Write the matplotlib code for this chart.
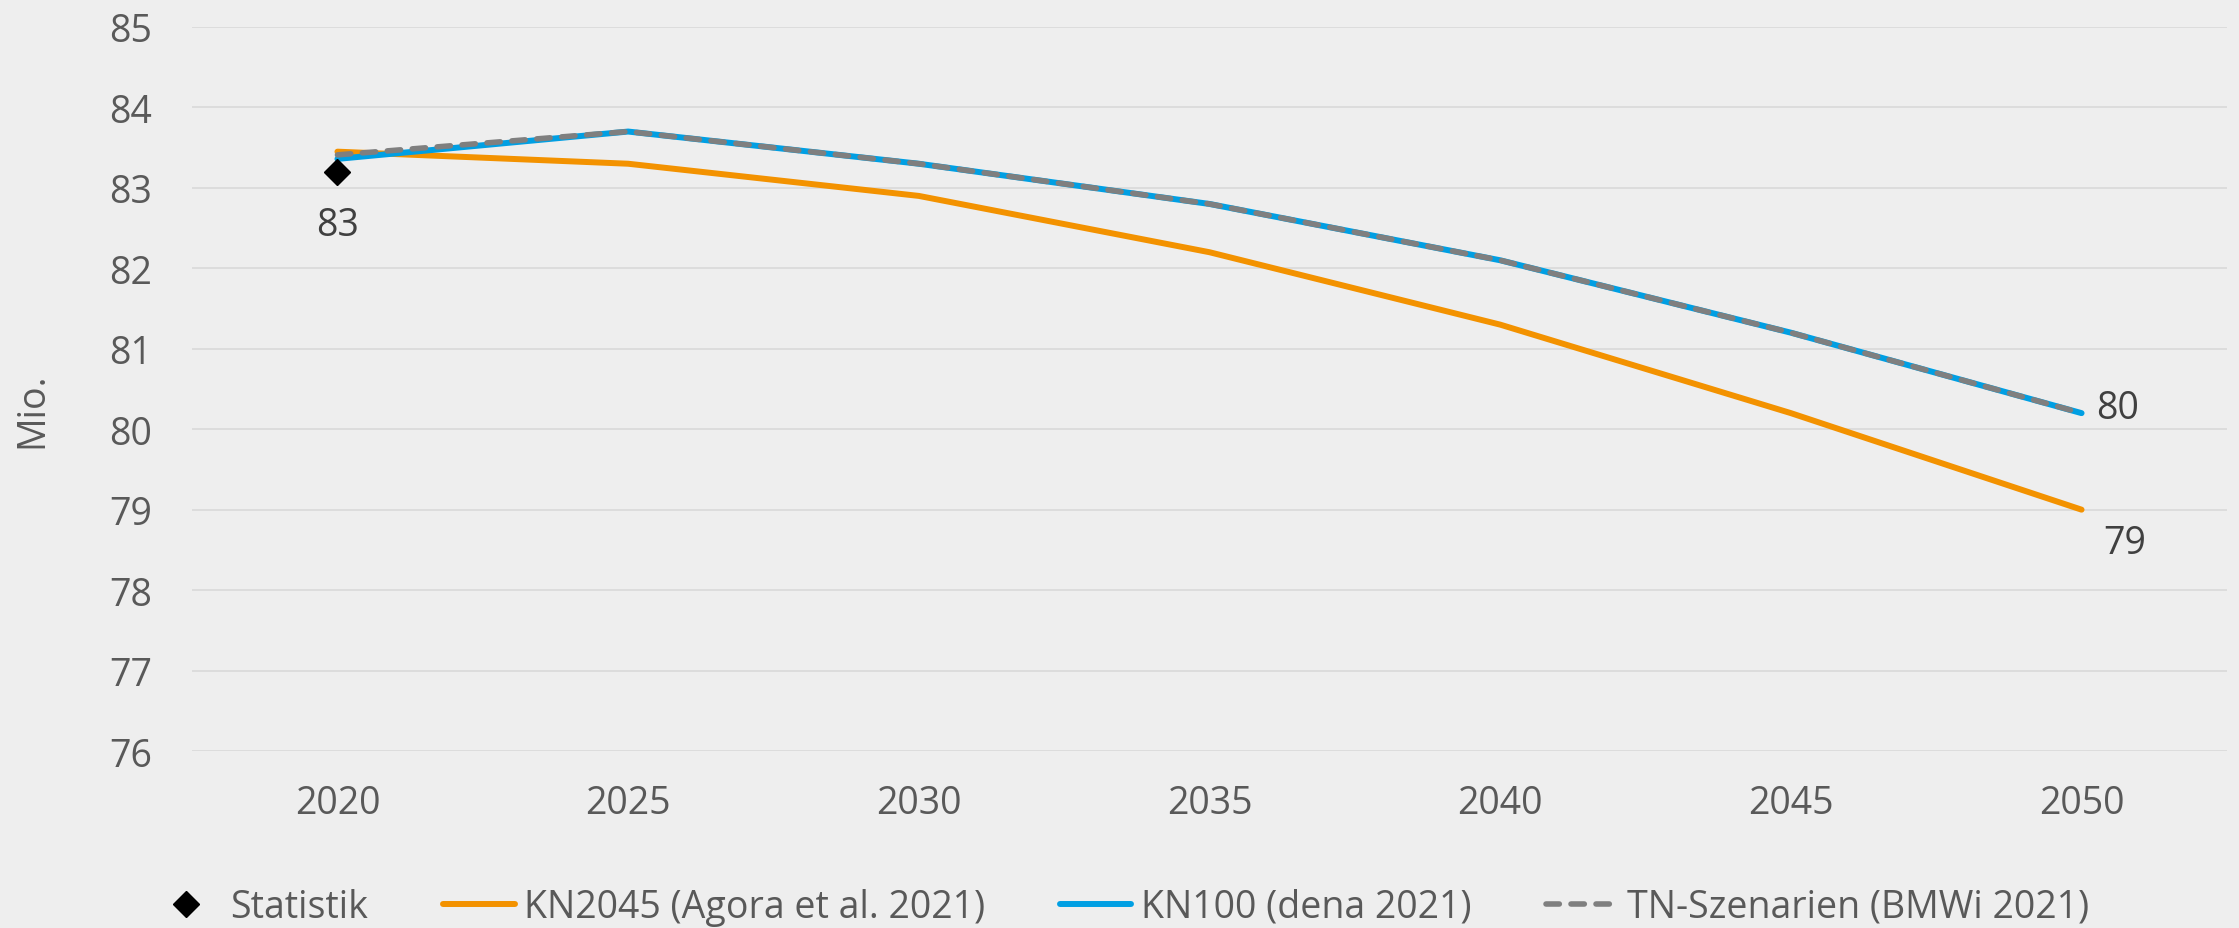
import matplotlib
matplotlib.use("Agg")
import matplotlib.pyplot as plt

plt.rcParams['font.family'] = ['Open Sans', 'DejaVu Sans']

years = ['2020', '2025', '2030', '2035', '2040', '2045', '2050']
statistik = [83.2]
kn2045 = [83.45, 83.3, 82.9, 82.2, 81.3, 80.2, 79.0]
kn100 = [83.36, 83.7, 83.3, 82.8, 82.1, 81.2, 80.2]
tn_szen = [83.41, 83.7, 83.3, 82.8, 82.1, 81.2, 80.2]
y_ticks = [76, 77, 78, 79, 80, 81, 82, 83, 84, 85]

bg = '#EEEEEE'
txt = '#595959'
fs = 27

fig = plt.figure(figsize=(22.39, 9.29), dpi=100, facecolor=bg)
ax = fig.add_axes([0.0858, 0.1905, 0.9088, 0.7794], facecolor=bg)

x = list(range(len(years)))

ax.plot(x, kn2045, color='#F39200', lw=4.3, solid_capstyle='round',
        label='KN2045 (Agora et al. 2021)', zorder=3)
ax.plot(x, kn100, color='#009FE3', lw=4.3, solid_capstyle='round',
        label='KN100 (dena 2021)', zorder=4)
ax.plot(x, tn_szen, color='#7F7F7F', lw=4.0, dashes=(2.4, 2.1),
        dash_capstyle='round', label='TN-Szenarien (BMWi 2021)', zorder=5)
ax.plot(x[:1], statistik, ls='none', marker='D', ms=13.5, color='black',
        label='Statistik', zorder=6)

        # data labels
ax.annotate(f'{statistik[0]:.0f}', (0, statistik[0]), xytext=(0, -38),
            textcoords='offset points', ha='center', va='center',
            fontsize=fs, color='#404040')
ax.annotate(f'{kn100[-1]:.0f}', (6, kn100[-1]), xytext=(26, 4),
            textcoords='offset points', ha='center', va='center',
            fontsize=fs, color='#404040')
ax.annotate(f'{kn2045[-1]:.0f}', (6, kn2045[-1]), xytext=(31, -24),
            textcoords='offset points', ha='center', va='center',
            fontsize=fs, color='#404040')

ax.set_xlim(-0.5, 6.5)
ax.set_ylim(76, 85)
ax.set_xticks(x)
ax.set_xticklabels(years)
ax.set_yticks(y_ticks)
ax.tick_params(axis='both', length=0, labelsize=fs, colors=txt)
ax.tick_params(axis='x', pad=24)
ax.tick_params(axis='y', pad=29)
ax.grid(axis='y', color='#D9D9D9', lw=1.2)
ax.set_axisbelow(True)
for s in ax.spines.values():
    s.set_visible(False)

fig.text(32 / 2239, 1 - 410 / 929, 'Mio.', rotation=90, ha='center',
         va='center', fontsize=fs, color=txt)

h, l = ax.get_legend_handles_labels()
order = [3, 0, 1, 2]
leg = fig.legend([h[i] for i in order], [l[i] for i in order], loc='center',
                 bbox_to_anchor=(0.5, 1 - 908 / 929), ncol=4, frameon=False,
                 fontsize=fs, labelcolor=txt, handlelength=1.9,
                 handletextpad=0.25, columnspacing=2.0, numpoints=1,
                 borderpad=0, borderaxespad=0)

fig.savefig('out.png', dpi=100, facecolor=bg)
